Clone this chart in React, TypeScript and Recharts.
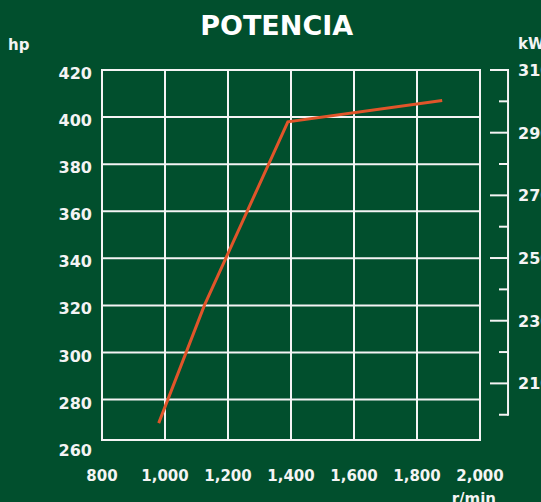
import React from 'react';
import { LineChart, Line, XAxis, YAxis, ReferenceLine } from 'recharts';

const rpmValues = [980, 1125, 1390, 1880];
const hpValues = [270, 320, 398, 407];

const xTicks = [800, 1000, 1200, 1400, 1600, 1800, 2000];
const hpTicks = [260, 280, 300, 320, 340, 360, 380, 400, 420];
const hpGrid = [280, 300, 320, 340, 360, 380, 400];
const kwTicks = [200, 210, 220, 230, 240, 250, 260, 270, 280, 290, 300, 310];
const kwLabels = [210, 230, 250, 270, 290, 310];

const frameTop = 420;
const frameBottom = 262.8;
const kwBracketX = 2089;

const data = rpmValues.map((r, i) => ({ rpm: r, hp: hpValues[i] }));

const BG = '#014f2d';
const WHITE = '#f4f4f4';
const ORANGE = '#e1552a';
const FONT = '"DejaVu Sans", sans-serif';

const fmt = (v: number) => v.toLocaleString('en-US');

const LeftTick = (props: any) => {
  const { x, y, payload } = props;
  return (
    <text x={x} y={y + 9} textAnchor="end" fill={WHITE} fontFamily={FONT} fontWeight="bold" fontSize={16}>
      {payload.value}
    </text>
  );
};

const BottomTick = (props: any) => {
  const { x, y, payload } = props;
  return (
    <text x={x} y={y + 34} textAnchor="middle" fill={WHITE} fontFamily={FONT} fontWeight="bold" fontSize={15}>
      {fmt(payload.value)}
    </text>
  );
};

const RightTick = (props: any) => {
  const { x, y, payload } = props;
  const major = kwLabels.includes(payload.value);
  return (
    <g>
      <line x1={x + (major ? 10 : 19)} x2={x + 28} y1={y} y2={y} stroke={WHITE} strokeWidth={2} />
      {major && (
        <text x={x + 38} y={y + 6} textAnchor="start" fill={WHITE} fontFamily={FONT} fontWeight="bold" fontSize={16}>
          {payload.value}
        </text>
      )}
    </g>
  );
};

export default function App() {
  return (
    <div style={{ position: 'absolute', left: 0, top: 0, width: 541, height: 502, background: BG, overflow: 'hidden' }}>
      <LineChart width={541} height={502} data={data} margin={{ top: 70, right: 0, bottom: 0, left: 0 }}>
        <XAxis
          type="number"
          dataKey="rpm"
          domain={[800, 2000]}
          ticks={xTicks}
          interval={0}
          height={55.3}
          axisLine={false}
          tickLine={false}
          tickSize={0}
          tickMargin={0}
          tick={<BottomTick />}
        />
        <YAxis
          yAxisId="hp"
          type="number"
          domain={[260, 420]}
          ticks={hpTicks}
          interval={0}
          width={102}
          axisLine={false}
          tickLine={false}
          tickSize={0}
          tickMargin={10}
          tick={<LeftTick />}
        />
        <YAxis
          yAxisId="kw"
          orientation="right"
          type="number"
          domain={[189.8, 310]}
          allowDataOverflow={true}
          ticks={kwTicks}
          interval={0}
          width={61}
          axisLine={false}
          tickLine={false}
          tickSize={0}
          tickMargin={0}
          tick={<RightTick />}
        />
        {hpGrid.map((v) => (
          <ReferenceLine
            key={'h' + v}
            yAxisId="hp"
            segment={[{ x: 800, y: v }, { x: 2000, y: v }]}
            stroke={WHITE}
            strokeWidth={2}
            ifOverflow="visible"
          />
        ))}
        {[frameTop, frameBottom].map((v) => (
          <ReferenceLine
            key={'f' + v}
            yAxisId="hp"
            segment={[{ x: 800, y: v }, { x: 2000, y: v }]}
            stroke={WHITE}
            strokeWidth={2}
            strokeLinecap="square"
            ifOverflow="visible"
          />
        ))}
        {xTicks.map((v) => (
          <ReferenceLine
            key={'v' + v}
            yAxisId="hp"
            segment={[{ x: v, y: frameBottom }, { x: v, y: frameTop }]}
            stroke={WHITE}
            strokeWidth={2}
            strokeLinecap="square"
            ifOverflow="visible"
          />
        ))}
        <ReferenceLine
          yAxisId="kw"
          segment={[{ x: kwBracketX, y: 200 }, { x: kwBracketX, y: 310 }]}
          stroke={WHITE}
          strokeWidth={2}
          strokeLinecap="square"
          ifOverflow="visible"
        />
        <Line
          yAxisId="hp"
          type="linear"
          dataKey="hp"
          stroke={ORANGE}
          strokeWidth={3}
          dot={false}
          activeDot={false}
          isAnimationActive={false}
        />
      </LineChart>
      <svg width={541} height={502} style={{ position: 'absolute', left: 0, top: 0, pointerEvents: 'none' }}>
        <text x={276.7} y={35} textAnchor="middle" fill="#ffffff" fontFamily={FONT} fontWeight="bold" fontSize={27}>
          POTENCIA
        </text>
        <text x={8} y={50} textAnchor="start" fill={WHITE} fontFamily={FONT} fontWeight="bold" fontSize={15}>
          hp
        </text>
        <text x={518} y={49} textAnchor="start" fill={WHITE} fontFamily={FONT} fontWeight="bold" fontSize={15}>
          kW
        </text>
        <text x={451.7} y={504} textAnchor="start" fill={WHITE} fontFamily={FONT} fontWeight="bold" fontSize={15}>
          r/min
        </text>
      </svg>
    </div>
  );
}
